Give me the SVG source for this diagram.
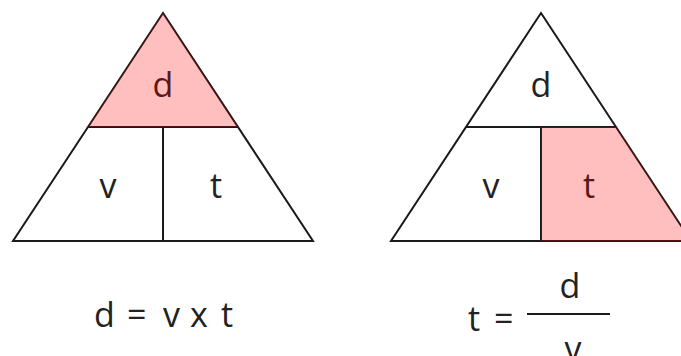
<svg xmlns="http://www.w3.org/2000/svg" width="681" height="356" viewBox="0 0 681 356">
<style>
.ln{fill:none;stroke:#1a1a1a;stroke-width:2;stroke-linejoin:miter}
.hl{fill:#ff0000;fill-opacity:0.25;stroke:none}
.tx{font-family:"Open Sans","Liberation Sans",sans-serif;font-size:34px;fill:#222;text-anchor:middle}
.eq{font-family:"Open Sans","Liberation Sans",sans-serif;font-size:34px;fill:#222}
</style>
<rect width="681" height="356" fill="#fff"/>
<g id="triangle-left">
  <text class="tx" x="163" y="97">d</text>
  <text class="tx" x="108" y="198">v</text>
  <text class="tx" x="216" y="198">t</text>
  <path class="ln" d="M163 13 L313 241 L13 241 Z M88 127 L238 127 M163 127 L163 241"/>
  <path class="hl" d="M163 13 L238 127 L88 127 Z"/>
</g>
<g id="triangle-right">
  <text class="tx" x="541" y="97">d</text>
  <text class="tx" x="491" y="198">v</text>
  <text class="tx" x="589" y="198">t</text>
  <path class="ln" d="M541 13 L691 241 L391 241 Z M466 127 L616 127 M541 127 L541 241"/>
  <path class="hl" d="M541 127 L616 127 L691 241 L541 241 Z"/>
</g>
<g id="formula-left">
  <text class="eq" y="327"><tspan x="94">d</tspan><tspan x="127">=</tspan><tspan x="163">v</tspan><tspan x="190">x</tspan><tspan x="221">t</tspan></text>
</g>
<g id="formula-right">
  <text class="eq" y="331"><tspan x="468">t</tspan><tspan x="494">=</tspan></text>
  <line class="ln" x1="527" y1="314" x2="610" y2="314"/>
  <text class="tx" x="570" y="298">d</text>
  <text class="tx" x="573" y="361">v</text>
</g>
</svg>
